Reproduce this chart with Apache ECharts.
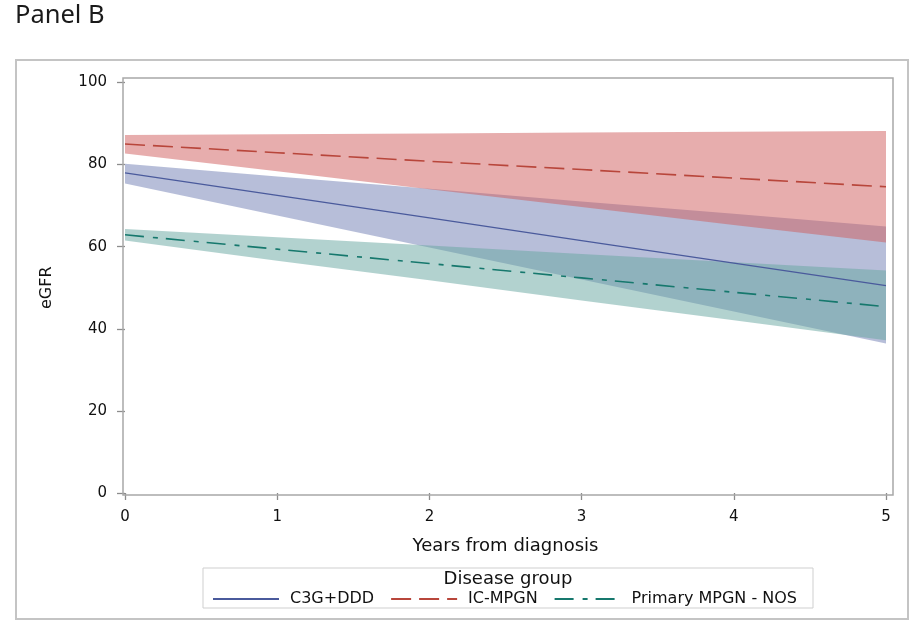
<!DOCTYPE html>
<html><head><meta charset="utf-8">
<script src="https://cdn.jsdelivr.net/npm/echarts@6/dist/echarts.min.js"></script>
<style>html,body{margin:0;padding:0;background:#fff}#c{width:916px;height:621px}</style>
</head><body><div id="c"></div>
<script>
// ---- data ----
const years = [0, 1, 2, 3, 4, 5];
const yTicks = [0, 20, 40, 60, 80, 100];
const groupNames = ['C3G+DDD', 'IC-MPGN', 'Primary MPGN - NOS'];
const c3gMean  = [78.0, 72.5, 67.0, 61.5, 56.0, 50.5];
const c3gLower = [75.4, 67.6, 59.8, 52.0, 44.2, 36.4];
const c3gUpper = [80.2, 77.1, 74.1, 71.0, 68.0, 64.9];
const icMean   = [85.0, 82.9, 80.8, 78.8, 76.7, 74.6];
const icLower  = [82.7, 78.4, 74.0, 69.7, 65.3, 61.0];
const icUpper  = [87.2, 87.4, 87.6, 87.8, 88.0, 88.2];
const nosMean  = [62.9, 59.4, 55.9, 52.4, 48.9, 45.4];
const nosLower = [61.5, 56.6, 51.8, 46.9, 42.1, 37.2];
const nosUpper = [64.3, 62.3, 60.3, 58.2, 56.2, 54.2];

// ---- styles ----
const FONT = 'DejaVu Sans';
const fills = ['rgba(111,126,179,0.5)', 'rgba(208,91,91,0.5)', 'rgba(102,165,160,0.5)'];
const lineCols = ['#4a5a9c', '#B8463B', '#16786D'];
const dashes = ['solid', [20, 8], [19, 9, 5, 8]];

function pairs(arr) { return years.map((t, i) => [t, arr[i]]); }
function bandSeries(key, lower, upper, fill) {
  return {
    type: 'custom', name: key, silent: true, z: 1, animation: false,
    data: years.map((t, i) => [t, lower[i], upper[i]]),
    encode: { x: 0, y: [1, 2] },
    renderItem: function (params, api) {
      if (params.dataIndex !== 0) return null;
      const pts = [];
      for (let i = 0; i < years.length; i++) pts.push(api.coord([years[i], upper[i]]));
      for (let i = years.length - 1; i >= 0; i--) pts.push(api.coord([years[i], lower[i]]));
      return { type: 'polygon', shape: { points: pts }, style: { fill: fill, stroke: null } };
    }
  };
}
function meanSeries(name, arr, col, dash, w) {
  return { type: 'line', name: name, data: pairs(arr), symbol: 'none', showSymbol: false, z: 3,
    lineStyle: { color: col, width: w, type: dash }, itemStyle: { color: col }, animation: false };
}

const series = [
  bandSeries('b1', c3gLower, c3gUpper, fills[0]),
  bandSeries('b2', icLower, icUpper, fills[1]),
  bandSeries('b3', nosLower, nosUpper, fills[2]),
  meanSeries(groupNames[0], c3gMean, lineCols[0], dashes[0], 1.3),
  meanSeries(groupNames[1], icMean, lineCols[1], dashes[1], 1.6),
  meanSeries(groupNames[2], nosMean, lineCols[2], dashes[2], 1.6)
];

const chart = echarts.init(document.getElementById('c'), null, { renderer: 'canvas' });
chart.setOption({
  animation: false,
  backgroundColor: '#fff',
  grid: { left: 125, right: 30, top: 82.5, bottom: 128, containLabel: false, outerBoundsMode: 'none' },
  xAxis: {
    type: 'value', min: 0, max: 5, interval: 1, offset: 2,
    name: 'Years from diagnosis', nameLocation: 'middle', nameGap: 42,
    nameTextStyle: { fontFamily: FONT, fontSize: 18, color: '#111' },
    axisLine: { show: false },
    axisTick: { show: true, length: 7, lineStyle: { color: '#8c8c8c', width: 1.3 } },
    axisLabel: { margin: 15, fontFamily: FONT, fontSize: 15, color: '#111' },
    splitLine: { show: false }
  },
  yAxis: {
    type: 'value', min: 0, max: 100, interval: 20, offset: 2,
    name: 'eGFR', nameLocation: 'middle', nameGap: 68, nameRotate: 90,
    nameTextStyle: { fontFamily: FONT, fontSize: 16, color: '#111' },
    axisLine: { show: false },
    axisTick: { show: true, length: 8, lineStyle: { color: '#8c8c8c', width: 1.3 } },
    axisLabel: { margin: 16, fontFamily: FONT, fontSize: 15, color: '#111',
      formatter: v => yTicks.includes(v) ? String(v) : '' },
    splitLine: { show: false }
  },
  legend: {
    data: groupNames, left: 207, top: 586, orient: 'horizontal',
    itemWidth: 66, itemHeight: 14, itemGap: 16,
    itemStyle: { opacity: 0, borderWidth: 0 },
    textStyle: { fontFamily: FONT, fontSize: 16, color: '#111', padding: [0, 0, 0, 6] },
    selectedMode: false
  },
  graphic: [
    { type: 'text', left: 15, top: 3, style: { text: 'Panel B', fontFamily: 'Noto Sans', fontSize: 25.5, fill: '#1a1a1a' } },
    { type: 'rect', z: 0, shape: { x: 16, y: 60, width: 892, height: 559 },
      style: { fill: 'none', stroke: '#c4c4c4', lineWidth: 2 } },
    { type: 'rect', z: 10, shape: { x: 123, y: 78, width: 770, height: 417 },
      style: { fill: 'none', stroke: '#a8a8a8', lineWidth: 1.5 } },
    { type: 'rect', z: 10, shape: { x: 203, y: 568, width: 610, height: 40 },
      style: { fill: 'none', stroke: '#cfcfcf', lineWidth: 1 } },
    { type: 'text', z: 10, x: 508, y: 579,
      style: { text: 'Disease group', fontFamily: FONT, fontSize: 18, fill: '#111', align: 'center', verticalAlign: 'middle' } }
  ],
  series: series
});
</script>
</body></html>
